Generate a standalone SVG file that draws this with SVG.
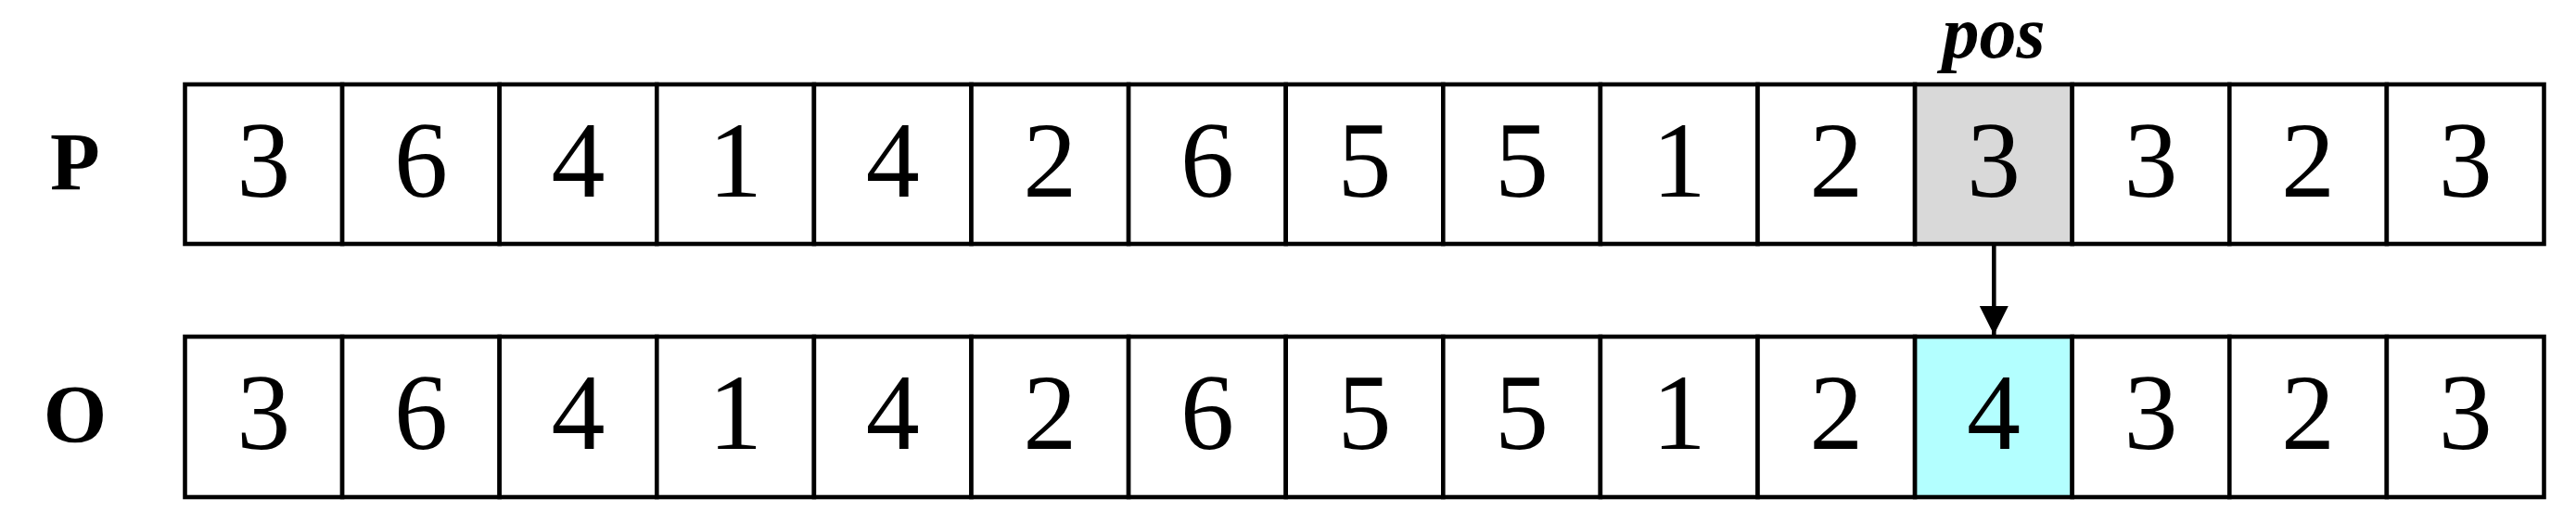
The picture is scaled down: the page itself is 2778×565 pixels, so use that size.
<svg xmlns="http://www.w3.org/2000/svg" width="2778" height="565" viewBox="0 0 2778 565">
<style>
.c{fill:#fff;stroke:#000;stroke-width:4.6}
.g{fill:#d9d9d9}
.b{fill:#b3ffff}
.d{font-family:"Liberation Serif",serif;font-size:116px;text-anchor:middle;fill:#000}
.l{font-family:"Liberation Serif",serif;font-size:88px;font-weight:bold;text-anchor:middle;fill:#000}
.p{font-family:"Liberation Serif",serif;font-size:80px;font-weight:bold;font-style:italic;text-anchor:middle;fill:#000}
</style>
<defs>
<marker id="ah" markerWidth="31" markerHeight="44" refX="31" refY="15.5" orient="auto" markerUnits="userSpaceOnUse">
<path d="M0,0 L31,15.5 L0,31 Z" fill="#000"/>
</marker>
</defs>
<g id="labelP"><text class="l" x="81" y="204">P</text></g>
<g id="labelO"><text class="l" x="81" y="476">O</text></g>
<g id="pos"><text class="p" x="2150" y="62">pos</text></g>
<g id="rowP">
<rect class="c" x="199.5" y="91" width="169.6" height="172"/><text class="d" x="284.3" y="212">3</text>
<rect class="c" x="369.1" y="91" width="169.6" height="172"/><text class="d" x="453.9" y="212">6</text>
<rect class="c" x="538.7" y="91" width="169.6" height="172"/><text class="d" x="623.5" y="212">4</text>
<rect class="c" x="708.3" y="91" width="169.6" height="172"/><text class="d" x="793.1" y="212">1</text>
<rect class="c" x="877.9" y="91" width="169.6" height="172"/><text class="d" x="962.7" y="212">4</text>
<rect class="c" x="1047.5" y="91" width="169.6" height="172"/><text class="d" x="1132.3" y="212">2</text>
<rect class="c" x="1217.1" y="91" width="169.6" height="172"/><text class="d" x="1301.9" y="212">6</text>
<rect class="c" x="1386.7" y="91" width="169.6" height="172"/><text class="d" x="1471.5" y="212">5</text>
<rect class="c" x="1556.3" y="91" width="169.6" height="172"/><text class="d" x="1641.1" y="212">5</text>
<rect class="c" x="1725.9" y="91" width="169.6" height="172"/><text class="d" x="1810.7" y="212">1</text>
<rect class="c" x="1895.5" y="91" width="169.6" height="172"/><text class="d" x="1980.3" y="212">2</text>
<rect class="c g" x="2065.1" y="91" width="169.6" height="172"/><text class="d" x="2149.9" y="212">3</text>
<rect class="c" x="2234.7" y="91" width="169.6" height="172"/><text class="d" x="2319.5" y="212">3</text>
<rect class="c" x="2404.3" y="91" width="169.6" height="172"/><text class="d" x="2489.1" y="212">2</text>
<rect class="c" x="2573.9" y="91" width="169.6" height="172"/><text class="d" x="2658.7" y="212">3</text>
</g>
<g id="rowO">
<rect class="c" x="199.5" y="363" width="169.6" height="173"/><text class="d" x="284.3" y="484">3</text>
<rect class="c" x="369.1" y="363" width="169.6" height="173"/><text class="d" x="453.9" y="484">6</text>
<rect class="c" x="538.7" y="363" width="169.6" height="173"/><text class="d" x="623.5" y="484">4</text>
<rect class="c" x="708.3" y="363" width="169.6" height="173"/><text class="d" x="793.1" y="484">1</text>
<rect class="c" x="877.9" y="363" width="169.6" height="173"/><text class="d" x="962.7" y="484">4</text>
<rect class="c" x="1047.5" y="363" width="169.6" height="173"/><text class="d" x="1132.3" y="484">2</text>
<rect class="c" x="1217.1" y="363" width="169.6" height="173"/><text class="d" x="1301.9" y="484">6</text>
<rect class="c" x="1386.7" y="363" width="169.6" height="173"/><text class="d" x="1471.5" y="484">5</text>
<rect class="c" x="1556.3" y="363" width="169.6" height="173"/><text class="d" x="1641.1" y="484">5</text>
<rect class="c" x="1725.9" y="363" width="169.6" height="173"/><text class="d" x="1810.7" y="484">1</text>
<rect class="c" x="1895.5" y="363" width="169.6" height="173"/><text class="d" x="1980.3" y="484">2</text>
<rect class="c b" x="2065.1" y="363" width="169.6" height="173"/><text class="d" x="2149.9" y="484">4</text>
<rect class="c" x="2234.7" y="363" width="169.6" height="173"/><text class="d" x="2319.5" y="484">3</text>
<rect class="c" x="2404.3" y="363" width="169.6" height="173"/><text class="d" x="2489.1" y="484">2</text>
<rect class="c" x="2573.9" y="363" width="169.6" height="173"/><text class="d" x="2658.7" y="484">3</text>
</g>
<g id="connectors">
<line x1="2150.3" y1="265" x2="2150.3" y2="361" stroke="#000" stroke-width="4.6" marker-end="url(#ah)"/>
</g>
</svg>
